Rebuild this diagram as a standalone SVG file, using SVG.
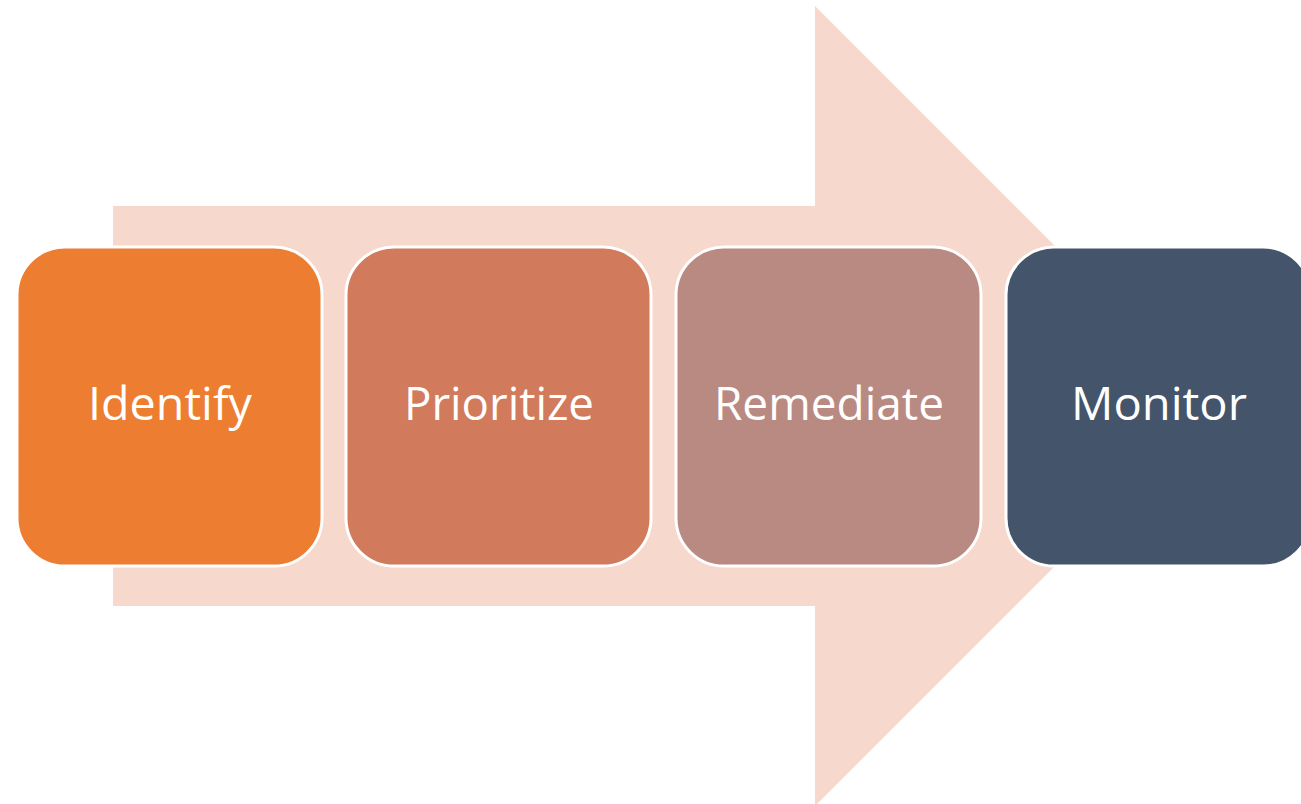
<svg xmlns="http://www.w3.org/2000/svg" width="1301" height="804" viewBox="0 0 1301 804">
<style>
.box{stroke:#fff;stroke-width:3}
.lbl{font-family:"Open Sans","Liberation Sans",sans-serif;font-size:46px;fill:#fff;text-anchor:middle}
</style>
<rect width="1301" height="804" fill="#fff"/>
<g id="arrow">
<polygon points="113,206 815,206 815,6 1215,406 815,806 815,606 113,606" fill="#F7D8CD"/>
</g>
<g id="identify">
<rect class="box" x="17" y="247" width="305" height="319" rx="48" ry="48" fill="#ED7D31"/>
<text class="lbl" x="170" y="420" textLength="164" lengthAdjust="spacingAndGlyphs">Identify</text>
</g>
<g id="prioritize">
<rect class="box" x="346" y="247" width="305" height="319" rx="48" ry="48" fill="#D17A5C"/>
<text class="lbl" x="499" y="420" textLength="190" lengthAdjust="spacingAndGlyphs">Prioritize</text>
</g>
<g id="remediate">
<rect class="box" x="676" y="247" width="305" height="319" rx="48" ry="48" fill="#B98A82"/>
<text class="lbl" x="829" y="420" textLength="230" lengthAdjust="spacingAndGlyphs">Remediate</text>
</g>
<g id="monitor">
<rect class="box" x="1006" y="247" width="305" height="319" rx="48" ry="48" fill="#44546A"/>
<text class="lbl" x="1159" y="420" textLength="176" lengthAdjust="spacingAndGlyphs">Monitor</text>
</g>
<g id="connectors"></g>
</svg>
